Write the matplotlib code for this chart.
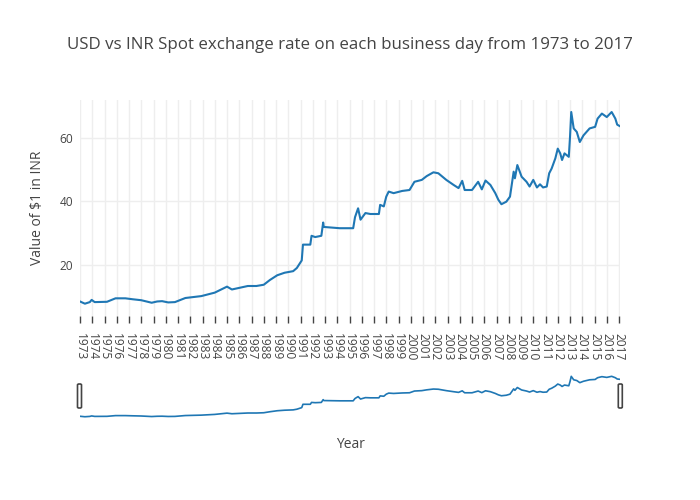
import matplotlib
matplotlib.use("Agg")
import matplotlib.pyplot as plt
from matplotlib.patches import FancyBboxPatch

plt.rcParams['font.family'] = ['Open Sans', 'DejaVu Sans']

# Readings from the chart (decimal year, INR per USD)
years = [1973.0, 1973.4, 1973.8, 1973.95, 1974.2, 1975.2, 1975.9, 1976.7, 1977.3, 1978.0,
         1978.85, 1979.3, 1979.7, 1980.2, 1980.75, 1981.6, 1982.9, 1984.0, 1985.0, 1985.4,
         1986.7, 1987.4, 1988.0, 1988.5, 1989.1, 1989.7, 1990.4, 1990.7, 1991.1, 1991.2,
         1991.8, 1991.9, 1992.2, 1992.7, 1992.85, 1992.9, 1994.2, 1995.3, 1995.45, 1995.7,
         1995.9, 1996.3, 1996.7, 1997.4, 1997.5, 1997.8, 1998.0, 1998.2, 1998.6, 1999.3,
         1999.9, 2000.3, 2000.9, 2001.3, 2001.85, 2002.25, 2002.9, 2003.5, 2003.9, 2004.2,
         2004.4, 2005.0, 2005.5, 2005.8, 2006.1, 2006.5, 2006.9, 2007.15, 2007.4, 2007.8,
         2008.1, 2008.4, 2008.5, 2008.7, 2009.05, 2009.45, 2009.7, 2010.0, 2010.3, 2010.55,
         2010.8, 2011.1, 2011.3, 2011.5, 2011.8, 2012.0, 2012.2, 2012.35, 2012.55, 2012.9,
         2013.0, 2013.1, 2013.3, 2013.55, 2013.8, 2014.1, 2014.6, 2015.05, 2015.25, 2015.6,
         2016.0, 2016.4, 2016.7, 2016.85, 2017.08]
rates = [8.3, 7.6, 8.1, 8.8, 8.1, 8.2, 9.3, 9.3, 9.0, 8.7,
         7.9, 8.3, 8.4, 8.0, 8.1, 9.4, 10.0, 11.1, 13.0, 12.1,
         13.2, 13.2, 13.6, 15.1, 16.6, 17.4, 17.9, 18.9, 21.3, 26.3,
         26.3, 29.1, 28.7, 29.1, 33.3, 31.9, 31.5, 31.5, 35.0, 37.8,
         34.2, 36.3, 36.0, 36.0, 38.9, 38.4, 41.5, 43.1, 42.6, 43.3,
         43.6, 46.2, 46.8, 48.0, 49.2, 48.9, 46.8, 45.2, 44.2, 46.5,
         43.6, 43.6, 46.2, 43.8, 46.6, 45.2, 42.6, 40.5, 39.1, 39.9,
         41.5, 49.4, 47.3, 51.5, 47.8, 46.2, 44.7, 46.8, 44.4, 45.4,
         44.4, 44.7, 48.9, 50.4, 53.6, 56.7, 55.2, 53.1, 55.2, 54.1,
         60.4, 68.3, 63.1, 62.0, 58.8, 60.9, 63.1, 63.6, 66.2, 67.8,
         66.7, 68.3, 66.2, 64.3, 63.8]
tick_years = list(range(1973, 2018))
tick_labels = [str(y) for y in tick_years]
y_ticks = [20, 40, 60]

TXT = '#444444'
LINE = '#1f77b4'
GRID = '#eeeeee'
W, H = 700, 500

fig = plt.figure(figsize=(7, 5), dpi=100)
x0, x1 = 80, 620
ax = fig.add_axes([x0 / W, 1 - 316 / H, (x1 - x0) / W, (316 - 100) / H])
ax.plot(years, rates, color=LINE, lw=1.5, solid_joinstyle='round')
ax.set_xlim(1973.0, 2017.08)
ax.set_ylim(3.7, 72.1)
ax.set_xticks(tick_years)
ax.set_xticklabels(tick_labels, rotation=-90, fontsize=8.6, color=TXT)
ax.set_yticks(y_ticks)
ax.set_yticklabels([str(v) for v in y_ticks], fontsize=8.6, color=TXT)
ax.tick_params(axis='x', length=5, width=1, color=TXT, pad=7)
ax.tick_params(axis='y', length=0, pad=5)
ax.grid(True, color=GRID, lw=1)
ax.set_axisbelow(True)
for s in ax.spines.values():
    s.set_visible(False)

fig.text(37.5 / W, 1 - 208 / H, 'Value of \\$1 in INR', rotation=90, ha='center', va='center',
         fontsize=10, color=TXT)
fig.text(350 / W, 1 - 445 / H, 'Year', ha='center', va='center', fontsize=10, color=TXT)
fig.text(350 / W, 1 - 45 / H, 'USD vs INR Spot exchange rate on each business day from 1973 to 2017',
         ha='center', va='center', fontsize=12.2, color=TXT)

# range slider
sl = fig.add_axes([x0 / W, 1 - 420 / H, (x1 - x0) / W, 48 / H])
sl.plot(years, rates, color=LINE, lw=1.2, solid_joinstyle='round')
sl.set_xlim(1973.0, 2017.08)
sl.set_ylim(2.7, 74.8)
sl.set_xticks([])
sl.set_yticks([])
for s in sl.spines.values():
    s.set_visible(False)

for cx in (79.5, 620.3):
    p = FancyBboxPatch(((cx - 2) / W, 1 - 408 / H), 4 / W, 24 / H,
                       boxstyle='round,pad=0,rounding_size=0.002',
                       transform=fig.transFigure, facecolor='white', edgecolor='#444444', lw=1.2)
    fig.patches.append(p)

fig.savefig('out.png', dpi=100)
